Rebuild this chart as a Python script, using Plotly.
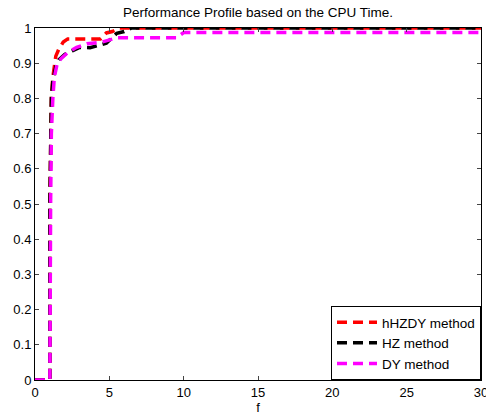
import plotly.graph_objects as go

# hHZDY method
x_hhzdy = [0, 1, 1, 1.05, 1.1, 1.2, 1.3, 1.4, 1.6, 1.9, 2.2, 4.4, 4.8, 5.2, 5.7, 30]
y_hhzdy = [0, 0, 0.5, 0.7, 0.8, 0.86, 0.9, 0.92, 0.94, 0.96, 0.969, 0.969, 0.986, 0.99, 1, 1]

# HZ method
x_hz = [0, 1, 1, 1.05, 1.1, 1.2, 1.4, 1.6, 2.0, 2.5, 3.0, 3.7, 4.2, 4.8, 5.5, 6.0, 6.5, 30]
y_hz = [0, 0, 0.5, 0.7, 0.8, 0.85, 0.89, 0.91, 0.925, 0.935, 0.945, 0.944, 0.95, 0.957, 0.985, 0.99, 1, 1]

# DY method
x_dy = [0, 1, 1.05, 1.1, 1.2, 1.3, 1.5, 1.8, 2.2, 2.8, 3.5, 4.5, 5.5, 9.5, 10, 30]
y_dy = [0, 0, 0.5, 0.7, 0.8, 0.86, 0.9, 0.915, 0.93, 0.945, 0.955, 0.96, 0.972, 0.972, 0.987, 0.987]

x_ticks = [0, 5, 10, 15, 20, 25, 30]
y_ticks = [0, 0.1, 0.2, 0.3, 0.4, 0.5, 0.6, 0.7, 0.8, 0.9, 1]
y_labels = ["0", "0.1", "0.2", "0.3", "0.4", "0.5", "0.6", "0.7", "0.8", "0.9", "1"]

series = [
    ("hHZDY method", x_hhzdy, y_hhzdy, "#ff0000"),
    ("HZ method", x_hz, y_hz, "#000000"),
    ("DY method", x_dy, y_dy, "#ff00ff"),
]

fig = go.Figure()
for name, xs, ys, col in series:
    fig.add_trace(go.Scatter(x=xs, y=ys, mode="lines", name=name,
                             line=dict(color=col, width=3.5, dash="10px,6px")))

font = "Liberation Sans, Arial, sans-serif"
fig.update_layout(
    width=486, height=416,
    margin=dict(l=35, r=5, t=28, b=36),
    paper_bgcolor="white", plot_bgcolor="white",
    font=dict(family=font, size=13, color="black"),
    title=dict(text="Performance Profile based on the CPU Time.", x=0.531, xanchor="center",
               y=0.971, yanchor="middle", font=dict(size=13.5, family=font)),
    showlegend=True,
    legend=dict(x=1, y=0, xanchor="right", yanchor="bottom", bgcolor="white",
                bordercolor="black", borderwidth=1, font=dict(size=13.5, family=font),
                tracegroupgap=0, itemwidth=40),
    xaxis=dict(range=[0, 30], tickvals=x_ticks, ticks="inside", ticklen=4,
               showline=True, linecolor="black", linewidth=1, mirror="allticks",
               showgrid=False, zeroline=False, ticklabeloverflow="allow", automargin=False,
               title=dict(text="f", standoff=4, font=dict(size=13))),
    yaxis=dict(range=[0, 1], tickvals=y_ticks, ticktext=y_labels, ticks="inside", ticklen=4,
               showline=True, linecolor="black", linewidth=1, mirror="allticks",
               showgrid=False, zeroline=False, ticklabeloverflow="allow", automargin=False),
)
fig.write_html("out.html", config={"displayModeBar": False},
               post_script="document.body.style.margin='0';document.body.style.overflow='hidden';")
